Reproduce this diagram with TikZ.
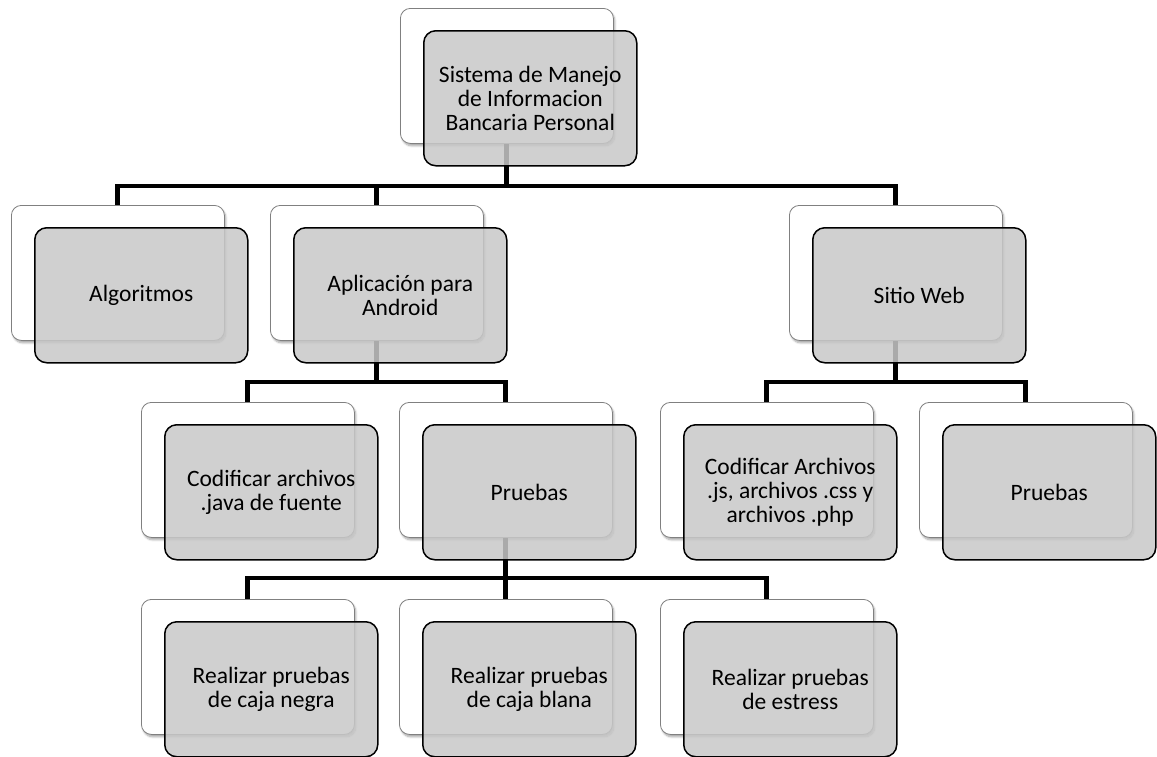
\documentclass[tikz,border=0pt]{standalone}
\usepackage{fontspec}
\setmainfont{Carlito}
\usetikzlibrary{shadows.blur}

\definecolor{frontgray}{RGB}{200,200,200}
\definecolor{backedge}{RGB}{128,128,128}

\tikzset{
  backbox/.style={draw=backedge, line width=0.8pt, fill=white, rounded corners=10pt,
    minimum width=213pt, minimum height=135pt, anchor=north west, inner sep=0pt,
    blur shadow={shadow xshift=1.5pt, shadow yshift=-2.5pt, shadow blur steps=6, shadow opacity=35}},
  frontbox/.style={draw=black, line width=1.5pt, fill=frontgray, fill opacity=0.85, text opacity=1,
    rounded corners=12pt, minimum width=213pt, minimum height=135pt, anchor=north west,
    inner sep=0pt, align=center, font=\fontsize{23.5}{24}\selectfont},
  conn/.style={draw=black, line width=4.5pt, line cap=rect}
}

% one WBS entry: a white card with a grey card laid over it, shifted down and right
\newcommand{\wbsentry}[4]{%
  \node[backbox] (#1-b) at (#2,#3) {};
  \node[frontbox] (#1) at (#2+23,#3+22) {#4};
}

\begin{document}
\begin{tikzpicture}[x=1pt,y=-1pt]
\useasboundingbox (0,0) rectangle (1157,756);

% bus heights
\coordinate (bus1) at (0,186);
\coordinate (bus2) at (0,382);
\coordinate (bus3) at (0,578);

% card anchors used by the connectors
\coordinate (top-s) at (506.5,143);
\coordinate (alg-n) at (117.5,205);
\coordinate (and-n) at (376.5,205);
\coordinate (and-s) at (376.5,340);
\coordinate (web-n) at (895.5,205);
\coordinate (web-s) at (895.5,340);
\coordinate (cod-n) at (247.5,402);
\coordinate (pru-n) at (505.5,402);
\coordinate (pru-s) at (505.5,537);
\coordinate (codw-n) at (766.5,402);
\coordinate (pruw-n) at (1025.5,402);
\coordinate (neg-n) at (247.5,599);
\coordinate (bla-n) at (505.5,599);
\coordinate (est-n) at (766.5,599);

% connectors
\draw[conn] (top-s) -- (top-s |- bus1);
\draw[conn] (alg-n) |- (bus1 -| web-n) -- (web-n);
\draw[conn] (and-n) -- (and-n |- bus1);

\draw[conn] (and-s) -- (and-s |- bus2);
\draw[conn] (cod-n) |- (bus2 -| pru-n) -- (pru-n);

\draw[conn] (web-s) -- (web-s |- bus2);
\draw[conn] (codw-n) |- (bus2 -| pruw-n) -- (pruw-n);

\draw[conn] (pru-s) -- (pru-s |- bus3);
\draw[conn] (neg-n) |- (bus3 -| est-n) -- (est-n);
\draw[conn] (bla-n) -- (bla-n |- bus3);

% cards
\wbsentry{top}{400}{8}{Sistema de Manejo\\de Informacion\\Bancaria Personal}
\wbsentry{alg}{11}{205}{Algoritmos}
\wbsentry{and}{270}{205}{Aplicación para\\Android}
\wbsentry{web}{789}{205}{Sitio Web}
\wbsentry{cod}{141}{402}{Codificar archivos\\.java de fuente}
\wbsentry{pru}{399}{402}{Pruebas}
\wbsentry{codw}{660}{402}{Codificar Archivos\\.js, archivos .css y\\archivos .php}
\wbsentry{pruw}{919}{402}{Pruebas}
\wbsentry{neg}{141}{599}{Realizar pruebas\\de caja negra}
\wbsentry{bla}{399}{599}{Realizar pruebas\\de caja blana}
\wbsentry{est}{660}{599}{Realizar pruebas\\de estress}
\end{tikzpicture}
\end{document}
